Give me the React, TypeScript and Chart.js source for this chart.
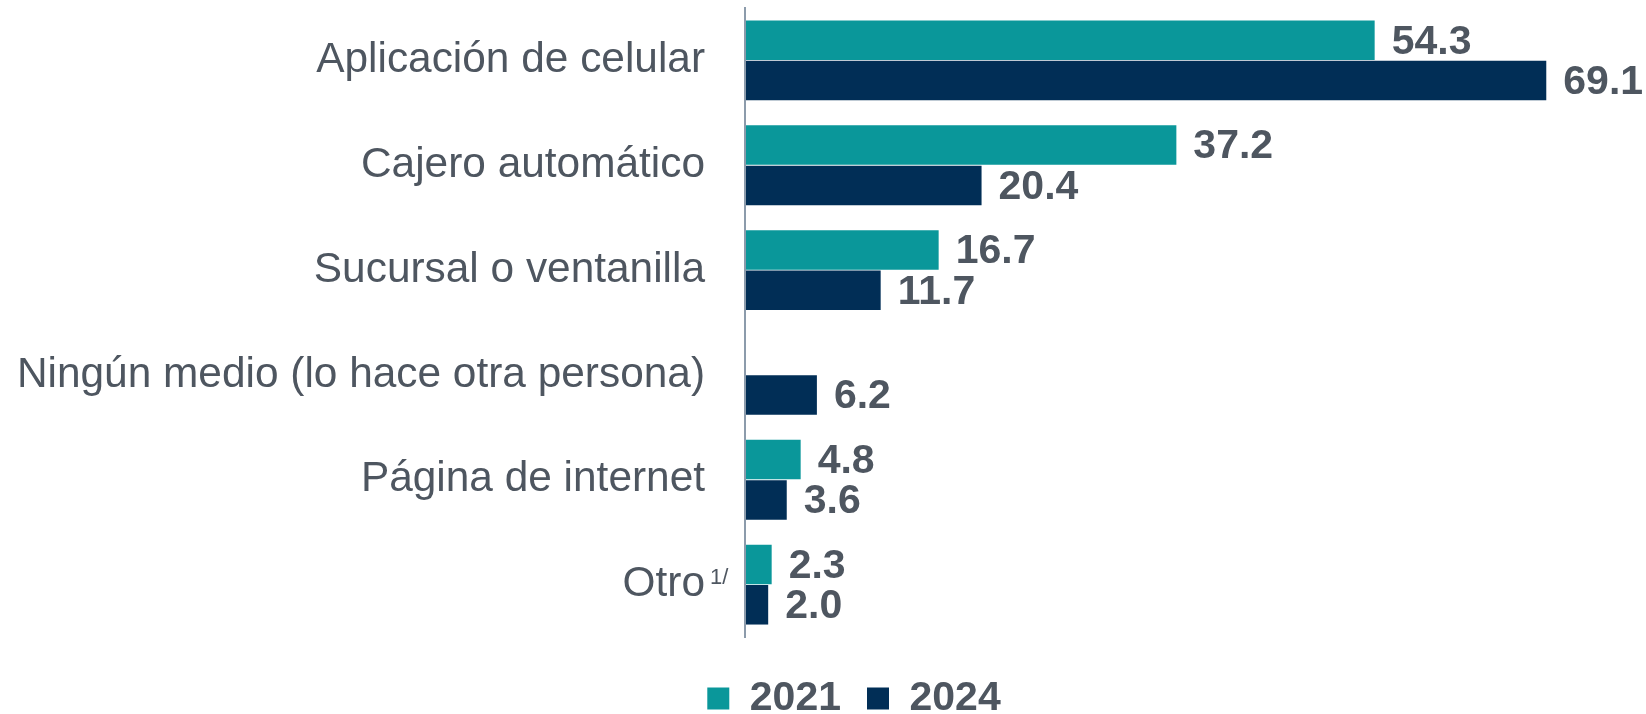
import React, { useEffect, useRef } from "react";
import { Chart, registerables } from "chart.js";

Chart.register(...registerables);

const categories = [
  "Aplicación de celular",
  "Cajero automático",
  "Sucursal o ventanilla",
  "Ningún medio (lo hace otra persona)",
  "Página de internet",
  "Otro",
];
const series2021 = [54.3, 37.2, 16.7, null, 4.8, 2.3];
const series2024 = [69.1, 20.4, 11.7, 6.2, 3.6, 2.0];
const seriesNames = ["2021", "2024"];
const footnoteIndex = 5;
const footnoteText = "1/";

const TEAL = "#0A979A";
const NAVY = "#012E56";
const TEXT = "#4E5660";
const AXIS = "#8C9BAB";
const FONT = "'Liberation Sans', Arial, sans-serif";

const valueLabels = {
  id: "valueLabels",
  afterDatasetsDraw(chart: any) {
    const ctx = chart.ctx;
    ctx.save();
    ctx.fillStyle = TEXT;
    ctx.font = `bold 41px ${FONT}`;
    ctx.textAlign = "left";
    ctx.textBaseline = "middle";
    chart.data.datasets.forEach((ds: any, di: number) => {
      const meta = chart.getDatasetMeta(di);
      meta.data.forEach((el: any, i: number) => {
        const v = ds.data[i];
        if (v === null || v === undefined) return;
        ctx.fillText(Number(v).toFixed(1), el.x + 17, el.y + 2);
      });
    });
    ctx.restore();
  },
};

const footnote = {
  id: "footnote",
  afterDraw(chart: any) {
    const y = chart.scales.y;
    const ctx = chart.ctx;
    const cy = y.getPixelForValue(footnoteIndex);
    const right = y.right - 40;
    ctx.save();
    ctx.fillStyle = TEXT;
    ctx.font = `22px ${FONT}`;
    ctx.textAlign = "left";
    ctx.textBaseline = "alphabetic";
    ctx.fillText(footnoteText, right + 5, cy - 1);
    ctx.restore();
  },
};

export default function App() {
  const ref = useRef<HTMLCanvasElement | null>(null);
  useEffect(() => {
    if (!ref.current) return;
    const chart = new Chart(ref.current, {
      type: "bar",
      data: {
        labels: categories,
        datasets: [
          {
            label: seriesNames[0],
            data: series2021,
            backgroundColor: TEAL,
            borderWidth: 0,
            barPercentage: 0.98,
            categoryPercentage: 0.77,
          },
          {
            label: seriesNames[1],
            data: series2024,
            backgroundColor: NAVY,
            borderWidth: 0,
            barPercentage: 0.98,
            categoryPercentage: 0.77,
          },
        ],
      },
      options: {
        indexAxis: "y",
        responsive: false,
        animation: false,
        layout: { padding: { top: 8, left: 0, right: -62, bottom: 0 } },
        scales: {
          x: {
            min: 0,
            max: 77.7,
            display: true,
            ticks: { display: false },
            grid: { display: false, drawTicks: false },
            border: { display: false },
            afterFit(s: any) {
              s.height = 15;
              s.paddingLeft = 0;
              s.paddingRight = 0;
            },
          },
          y: {
            grid: { display: false, drawTicks: false },
            border: { display: true, color: AXIS, width: 2, z: 1 },
            ticks: {
              padding: 40,
              color: TEXT,
              font: { family: FONT, size: 42.4 },
            },
            afterFit(s: any) {
              s.width = 745;
              s.paddingTop = 0;
              s.paddingBottom = 0;
            },
          },
        },
        plugins: {
          tooltip: { enabled: false },
          legend: {
            display: true,
            position: "bottom",
            maxHeight: 62,
            labels: {
              boxWidth: 22,
              boxHeight: 22,
              padding: 26,
              color: TEXT,
              font: { family: FONT, size: 41, weight: "bold" },
            },
          },
        },
      },
      plugins: [valueLabels, footnote],
    } as any);
    return () => chart.destroy();
  }, []);
  return (
    <div style={{ position: "absolute", left: 0, top: 0, width: 1646, height: 714 }}>
      <canvas ref={ref} width={1646} height={714} style={{ display: "block" }} />
    </div>
  );
}
